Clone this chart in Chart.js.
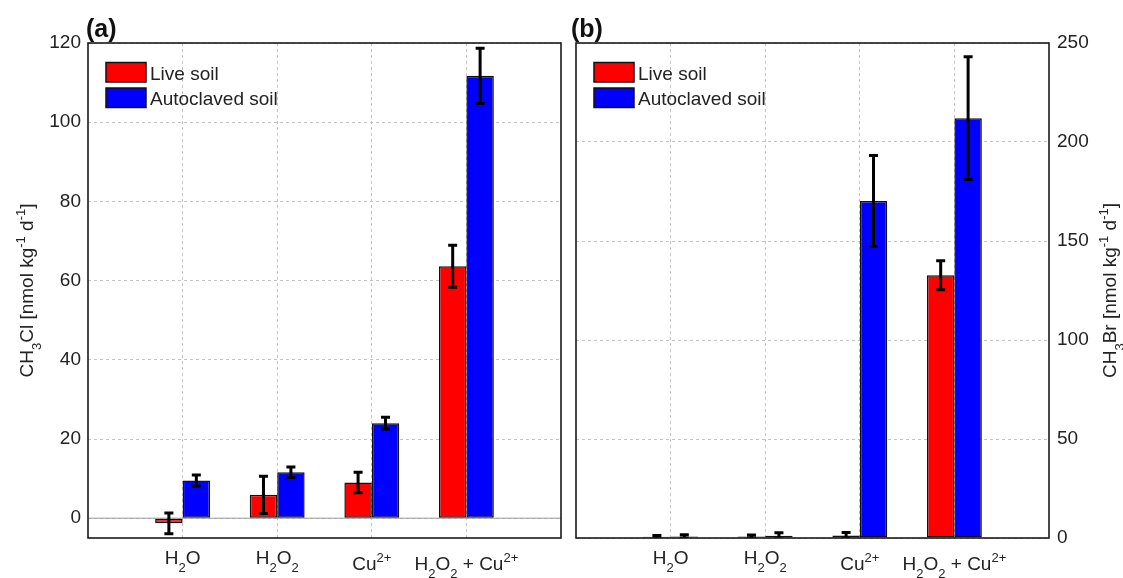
<!DOCTYPE html>
<html>
<head>
<meta charset="utf-8">
<script src="https://cdn.jsdelivr.net/npm/chart.js@4.4.0/dist/chart.umd.min.js"></script>
<style>
  html, body { margin: 0; padding: 0; background: #fff; overflow: hidden; }
  #wrap { position: relative; width: 1123px; height: 578px; }
  canvas { position: absolute; top: 0; }
  #chartA { left: 0; }
  #chartB { left: 568px; }
</style>
</head>
<body>
<div id="wrap">
  <canvas id="chartA" width="568" height="578"></canvas>
  <canvas id="chartB" width="555" height="578"></canvas>
</div>
<script>
// categories (TeX-ish markup: _ subscript, ^ superscript)
const categories = ['H_2O', 'H_2O_2', 'Cu^{2+}', 'H_2O_2 + Cu^{2+}'];
const categoryPos = [1, 2, 3, 4];
const seriesNames = ['Live soil', 'Autoclaved soil'];

// (a) CH3Cl
const liveA = [-1.3, 5.9, 9.0, 63.6];
const liveErrA = [2.6, 4.7, 2.6, 5.3];
const autoA = [9.5, 11.6, 24.0, 111.7];
const autoErrA = [1.4, 1.3, 1.5, 7.0];
const yTicksA = [0, 20, 40, 60, 80, 100, 120];

// (b) CH3Br
const liveB = [0.6, 0.7, 1.3, 132.7];
const liveErrB = [0.7, 0.8, 1.5, 7.3];
const autoB = [0.8, 1.1, 170.2, 212.0];
const autoErrB = [0.9, 1.6, 23.0, 31.0];
const yTicksB = [0, 50, 100, 150, 200, 250];

const FONT = '"Liberation Sans", Arial, Helvetica, sans-serif';
const FS = 19;      // main text size
const FS_SMALL = 13; // sub / superscript
const TXT = '#222';

function parseRich(str) {
  const out = [];
  let buf = '', i = 0;
  while (i < str.length) {
    const c = str[i];
    if (c === '_' || c === '^') {
      if (buf) { out.push({ t: buf, m: 0 }); buf = ''; }
      let t;
      if (str[i + 1] === '{') {
        const j = str.indexOf('}', i);
        t = str.slice(i + 2, j);
        i = j + 1;
      } else {
        t = str[i + 1];
        i += 2;
      }
      out.push({ t: t, m: c === '_' ? 1 : -1 });
    } else {
      buf += c;
      i++;
    }
  }
  if (buf) out.push({ t: buf, m: 0 });
  return out;
}

// y = baseline
function drawRich(ctx, str, x, y, align) {
  const segs = parseRich(str);
  let w = 0;
  segs.forEach(s => {
    ctx.font = (s.m ? FS_SMALL : FS) + 'px ' + FONT;
    s.w = ctx.measureText(s.t).width;
    w += s.w;
  });
  let cx = align === 'center' ? x - w / 2 : x;
  ctx.textAlign = 'left';
  ctx.textBaseline = 'alphabetic';
  segs.forEach(s => {
    ctx.font = (s.m ? FS_SMALL : FS) + 'px ' + FONT;
    const dy = s.m === 1 ? 8 : (s.m === -1 ? -8 : 0);
    ctx.fillText(s.t, cx, y + dy);
    cx += s.w;
  });
}

function toPoints(vals) {
  return vals.map((v, i) => ({ x: categoryPos[i], y: v }));
}

function makeDecor(cfg) {
  return {
    id: 'decor',
    beforeDatasetsDraw(chart) {
      if (!cfg.zeroLine) return;
      const ctx = chart.ctx, a = chart.chartArea;
      const y0 = chart.scales.y.getPixelForValue(0);
      ctx.save();
      ctx.strokeStyle = '#9a9a9a';
      ctx.lineWidth = 1;
      ctx.beginPath();
      ctx.moveTo(a.left, y0);
      ctx.lineTo(a.right, y0);
      ctx.stroke();
      ctx.restore();
    },
    afterDatasetsDraw(chart) {
      const ctx = chart.ctx, a = chart.chartArea, ys = chart.scales.y;
      ctx.save();
      ctx.beginPath();
      ctx.rect(a.left, a.top, a.right - a.left, a.bottom - a.top);
      ctx.clip();
      ctx.strokeStyle = '#000';
      ctx.lineWidth = 3;
      chart.data.datasets.forEach((ds, di) => {
        const meta = chart.getDatasetMeta(di);
        meta.data.forEach((bar, j) => {
          const v = ds.data[j].y, e = cfg.errors[di][j];
          const yt = ys.getPixelForValue(v + e), yb = ys.getPixelForValue(v - e);
          ctx.beginPath();
          ctx.moveTo(bar.x, yt); ctx.lineTo(bar.x, yb);
          ctx.moveTo(bar.x - 4.5, yt); ctx.lineTo(bar.x + 4.5, yt);
          ctx.moveTo(bar.x - 4.5, yb); ctx.lineTo(bar.x + 4.5, yb);
          ctx.stroke();
        });
      });
      ctx.restore();
    },
    afterDraw(chart) {
      const ctx = chart.ctx, a = chart.chartArea, xs = chart.scales.x;
      ctx.save();
      // axes box
      ctx.strokeStyle = '#1a1a1a';
      ctx.lineWidth = 1.6;
      ctx.strokeRect(a.left, a.top, a.right - a.left, a.bottom - a.top);

      // legend
      chart.data.datasets.forEach((ds, i) => {
        const by = a.top + 19.5 + i * 25.5;
        ctx.fillStyle = ds.backgroundColor;
        ctx.fillRect(a.left + 18, by, 40, 19.5);
        ctx.strokeStyle = '#111';
        ctx.lineWidth = 1.5;
        ctx.strokeRect(a.left + 18, by, 40, 19.5);
        ctx.fillStyle = TXT;
        ctx.font = FS + 'px ' + FONT;
        ctx.textAlign = 'left';
        ctx.textBaseline = 'alphabetic';
        ctx.fillText(ds.label, a.left + 62, a.top + 37 + i * 25);
      });

      // category labels (top aligned like the original)
      ctx.fillStyle = TXT;
      categories.forEach((c, i) => {
        const x = xs.getPixelForValue(categoryPos[i]);
        const base = a.bottom + 25.5 + (c.indexOf('^') >= 0 ? 6 : 0);
        drawRich(ctx, c, x, base, 'center');
      });

      // panel tag
      ctx.font = 'bold 25px ' + FONT;
      ctx.textAlign = 'left';
      ctx.fillStyle = '#111';
      ctx.fillText(cfg.tag, a.left + cfg.tagDx, a.top - 6);

      // y title
      ctx.fillStyle = TXT;
      ctx.translate(cfg.titleX, (a.top + a.bottom) / 2);
      ctx.rotate(-Math.PI / 2);
      drawRich(ctx, cfg.ytitle, 0, 0, 'center');
      ctx.restore();
    }
  };
}

function makePanel(id, cfg) {
  const barStyle = { borderColor: '#111', borderWidth: 1.5, borderSkipped: false, categoryPercentage: 0.58, barPercentage: 1 };
  return new Chart(document.getElementById(id), {
    type: 'bar',
    data: {
      datasets: [
        Object.assign({ label: seriesNames[0], data: toPoints(cfg.live), backgroundColor: '#ff0000' }, barStyle),
        Object.assign({ label: seriesNames[1], data: toPoints(cfg.auto), backgroundColor: '#0000ff' }, barStyle)
      ]
    },
    options: {
      responsive: false,
      animation: false,
      layout: { padding: cfg.padding },
      plugins: { legend: { display: false }, tooltip: { enabled: false } },
      scales: {
        x: {
          type: 'linear', min: 0, max: 5, offset: false,
          afterBuildTicks: s => { s.ticks = categoryPos.map(v => ({ value: v })); },
          afterFit: s => { s.height = 40; },
          ticks: { display: false },
          grid: { offset: false, color: '#c4c4c4', lineWidth: 1, drawTicks: false },
          border: { display: false, dash: [3, 3] }
        },
        y: {
          position: cfg.yPos, min: cfg.yMin, max: cfg.yMax,
          afterBuildTicks: s => { s.ticks = cfg.yTicks.map(v => ({ value: v })); },
          afterFit: s => { s.width = cfg.yWidth; },
          ticks: { padding: cfg.tickPad, color: TXT, font: { family: FONT, size: FS } },
          grid: { color: '#c4c4c4', lineWidth: 1, drawTicks: false },
          border: { display: false, dash: [3, 3] }
        }
      }
    },
    plugins: [makeDecor(cfg)]
  });
}

makePanel('chartA', {
  live: liveA, auto: autoA, errors: [liveErrA, autoErrA],
  yMin: -5, yMax: 120, yTicks: yTicksA, yPos: 'left', yWidth: 88, tickPad: 7,
  padding: { left: 0, right: 7, top: 43, bottom: 0 },
  zeroLine: true, tag: '(a)', tagDx: -2, titleX: 33,
  ytitle: 'CH_3Cl [nmol kg^{-1} d^{-1}]'
});

makePanel('chartB', {
  live: liveB, auto: autoB, errors: [liveErrB, autoErrB],
  yMin: 0, yMax: 250, yTicks: yTicksB, yPos: 'right', yWidth: 74, tickPad: 8,
  padding: { left: 8, right: 0, top: 43, bottom: 0 },
  zeroLine: false, tag: '(b)', tagDx: -5, titleX: 548,
  ytitle: 'CH_3Br [nmol kg^{-1} d^{-1}]'
});
</script>
</body>
</html>
